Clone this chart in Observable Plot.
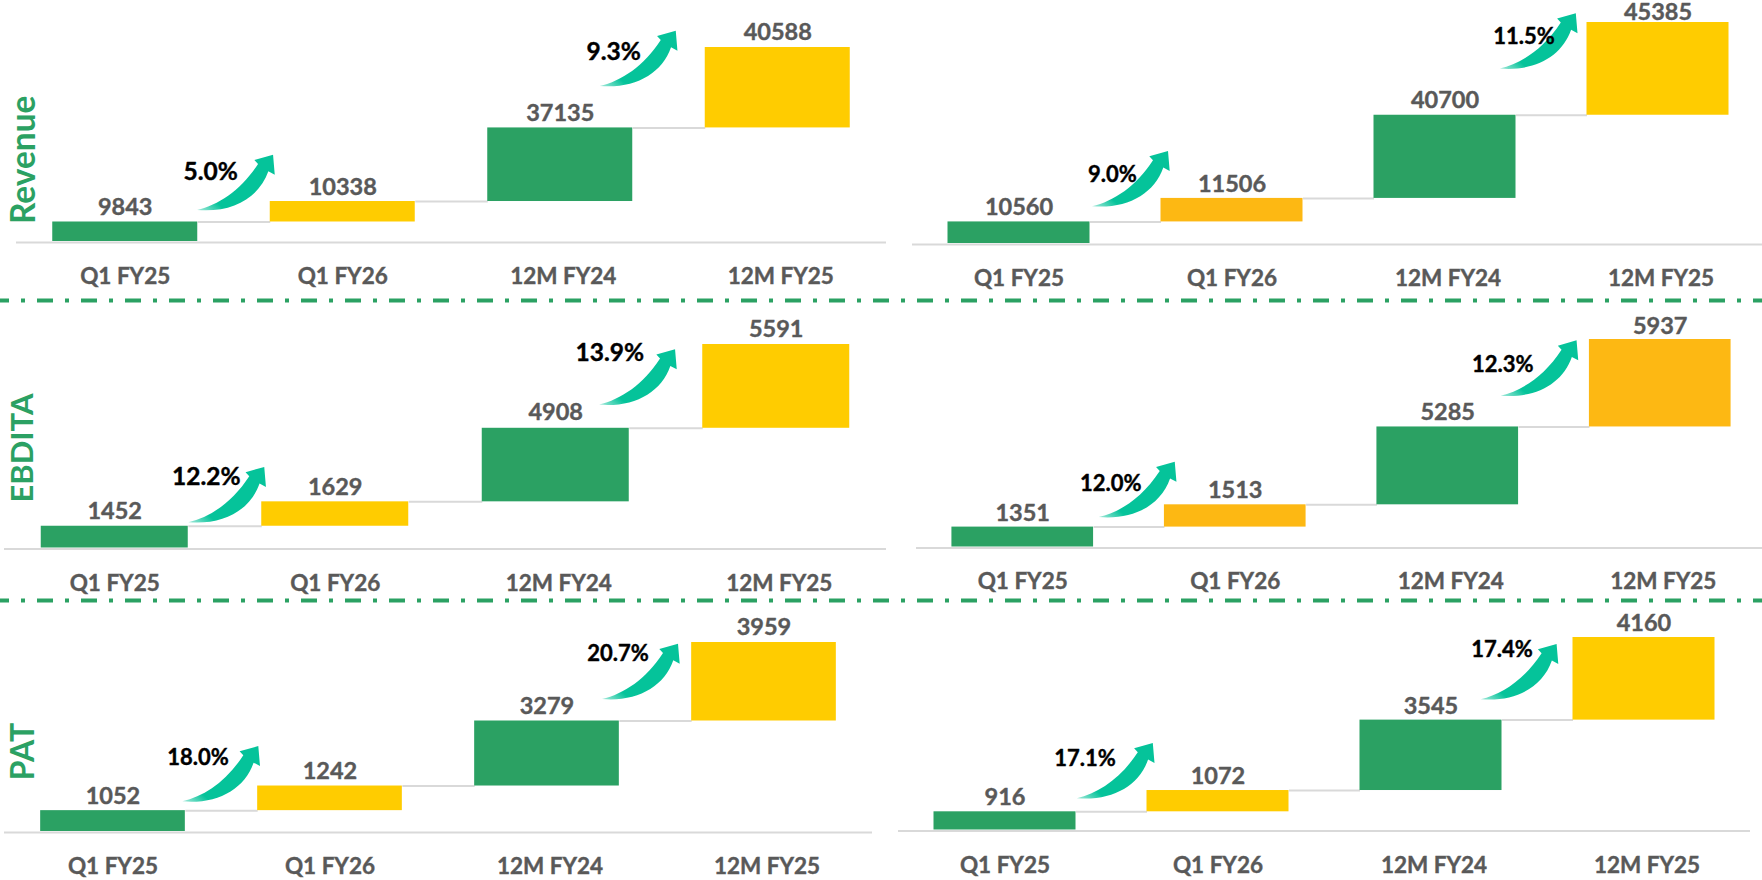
<!DOCTYPE html>
<html>
<head>
<meta charset="utf-8">
<script src="https://cdn.jsdelivr.net/npm/d3@7"></script>
<script src="https://cdn.jsdelivr.net/npm/@observablehq/plot@0.6"></script>
<style>
html,body{margin:0;padding:0;background:#fff;overflow:hidden}
#page{position:relative;width:1762px;height:880px;overflow:hidden}
#page svg g[aria-label="x-axis tick label"],
#page svg g[aria-label="x-axis tick label"] text{stroke:#595959 !important;stroke-width:0.4px !important}
</style>
</head>
<body>
<svg width="0" height="0" style="position:absolute">
  <defs>
    <linearGradient id="swoosh" x1="0" y1="1" x2="0.5" y2="0.6">
      <stop offset="0" stop-color="#05C39A" stop-opacity="0.35"/>
      <stop offset="0.45" stop-color="#05C39A"/>
      <stop offset="1" stop-color="#05C39A"/>
    </linearGradient>
  </defs>
</svg>
<div id="page"></div>
<script>
// Data
const categories = ["Q1 FY25", "Q1 FY26", "12M FY24", "12M FY25"];
const revenueLeft = [9843, 10338, 37135, 40588];
const revenueRight = [10560, 11506, 40700, 45385];
const ebditaLeft = [1452, 1629, 4908, 5591];
const ebditaRight = [1351, 1513, 5285, 5937];
const patLeft = [1052, 1242, 3279, 3959];
const patRight = [916, 1072, 3545, 4160];
const revenueLeftGrowth = ["5.0%", "9.3%"];
const revenueRightGrowth = ["9.0%", "11.5%"];
const ebditaLeftGrowth = ["12.2%", "13.9%"];
const ebditaRightGrowth = ["12.0%", "12.3%"];
const patLeftGrowth = ["18.0%", "20.7%"];
const patRightGrowth = ["17.1%", "17.4%"];

// Colours
const GREEN = "#2BA163", YELLOW = "#FFCC00", AMBER = "#FDB813", GREY = "#595959", LINE = "#D9D9D9";

// Layout of the six panels
const panels = [
  {values: revenueLeft, growth: revenueLeftGrowth, title: "Revenue", colors: [GREEN, YELLOW, GREEN, YELLOW],
   row: [0, 300], xr: [16, 886], yr: [241, 47], tick: 35, pctSize: 24.5,
   gaps: [14.5, 14.5, 14.5, 15], arrows: [[71.8, -12], [39.5, -42]], pcts: [[85.5, -49.5], [53.5, -76]],
   titlePos: [8, 15.3], titleSize: 33.5},
  {values: revenueRight, growth: revenueRightGrowth, colors: [GREEN, AMBER, GREEN, YELLOW],
   row: [0, 300], xr: [911.5, 1763.5], yr: [243, 22], tick: 35, pctSize: 22,
   gaps: [14, 14, 15, 10], arrows: [[73, -15.7], [54.8, -46.7]], pcts: [[93.5, -47], [79, -78]]},
  {values: ebditaLeft, growth: ebditaLeftGrowth, title: "EBDITA", colors: [GREEN, YELLOW, GREEN, YELLOW],
   row: [300, 300], xr: [4, 886], yr: [547.5, 344], tick: 35.5, pctSize: 24.5,
   gaps: [14.5, 14.5, 15.5, 15], arrows: [[73.5, -4], [43.3, -23.7]], pcts: [[91.5, -49], [54, -75.5]],
   titlePos: [19, 1.75], titleSize: 31},
  {values: ebditaRight, growth: ebditaRightGrowth, colors: [GREEN, AMBER, GREEN, AMBER],
   row: [300, 300], xr: [915.5, 1765.5], yr: [546.5, 339], tick: 34.5, pctSize: 22,
   gaps: [14, 14, 14.5, 13.5], arrows: [[76, -10], [52.8, -31.3]], pcts: [[88, -43], [55, -62.5]]},
  {values: patLeft, growth: patLeftGrowth, title: "PAT", colors: [GREEN, YELLOW, GREEN, YELLOW],
   row: [600, 280], xr: [4, 872], yr: [831, 642], tick: 35, pctSize: 22,
   gaps: [14.5, 14.5, 14.5, 15], arrows: [[69.3, -9.3], [55, -22]], pcts: [[85, -52.5], [71, -67.5]],
   titlePos: [19, 14.5], titleSize: 32},
  {values: patRight, growth: patRightGrowth, colors: [GREEN, YELLOW, GREEN, YELLOW],
   row: [600, 280], xr: [897.5, 1749.5], yr: [829.5, 637], tick: 35.5, pctSize: 22,
   gaps: [14, 14, 14, 14], arrows: [[71.8, -13.6], [49.6, -20.9]], pcts: [[80, -53], [71, -70]]}
];

// The swoosh arrow, drawn from its tail at the anchor point.
const swoosh = {
  draw(c) {
    c.moveTo(0, 0);
    c.bezierCurveTo(22, -5, 44, -20, 61, -46);
    c.lineTo(57.3, -50);
    c.lineTo(76, -55.3);
    c.lineTo(77.7, -35.3);
    c.lineTo(71.3, -38.7);
    c.bezierCurveTo(62, -12, 35, 3, 0, 0);
    c.closePath();
  }
};

const font = "Lato, Carlito, 'Open Sans', sans-serif";
const page = document.getElementById("page");

// Connectors run between the facing edges of two neighbouring bars.
function betweenBars(index, scales, values, dimensions, context, next) {
  const bw = scales.x.bandwidth;
  const half = (typeof bw === "function" ? bw() : bw) / 2;
  const x1 = Array.from(values.x1, v => v + half);
  const x2 = Array.from(values.x2, v => v - half);
  return next(index, scales, {...values, x1, x2}, dimensions, context);
}

function drawPanel(p) {
  const tops = Array.from(d3.cumsum(p.values));
  const rows = categories.map((cat, i) => ({
    cat, value: p.values[i], base: i ? tops[i - 1] : 0, top: tops[i], color: p.colors[i]
  }));
  const links = rows.slice(0, -1).map((r, i) => ({from: r.cat, to: rows[i + 1].cat, y: r.top}));
  const [rowTop, rowH] = p.row;
  const heavy = color => ({fill: color, stroke: color, strokeWidth: 0.4});
  const tickStyle = {anchor: "bottom", tickSize: 0, tickPadding: p.tick, lineAnchor: "middle", label: null,
    fontSize: 22.5, fontWeight: 700, fontVariant: "normal", fill: GREY};
  const marks = [
    Plot.link(links, {x1: "from", x2: "to", y1: "y", y2: "y", stroke: LINE, strokeWidth: 2, render: betweenBars}),
    Plot.ruleY([0], {stroke: LINE, strokeWidth: 2, dy: 1}),
    Plot.barY(rows, {x: "cat", y1: "base", y2: "top", fill: "color"}),
    Plot.axisX(categories.slice(0, 2), tickStyle),
    Plot.axisX(categories.slice(2), {...tickStyle, dx: 3}),
    ...rows.map((r, i) => Plot.text([r], {x: "cat", y: "top", text: d => String(d.value), dy: -p.gaps[i],
      lineAnchor: "middle", fontSize: 23.5, fontWeight: 700, ...heavy(GREY)})),
    ...p.arrows.map(([dx, dy], i) => Plot.dot([rows[i * 2]], {x: "cat", y: "top", dx, dy, symbol: swoosh, r: 1,
      fill: "url(#swoosh)", stroke: "none"})),
    ...p.pcts.map(([dx, dy], i) => Plot.text([rows[i * 2]], {x: "cat", y: "top", dx, dy, text: () => p.growth[i],
      lineAnchor: "middle", fontSize: p.pctSize, fontWeight: 700, ...heavy("#000")}))
  ];
  if (p.title) {
    marks.push(Plot.text([p.title], {frameAnchor: "left", dx: p.titlePos[0], dy: p.titlePos[1], rotate: -90, text: d => d,
      textAnchor: "middle", lineAnchor: "middle", fontSize: p.titleSize, fontWeight: 700, fill: GREEN}));
  }
  const chart = Plot.plot({
    width: p.xr[1] - p.xr[0],
    height: rowH,
    marginLeft: 0, marginRight: 0,
    marginTop: p.yr[1] - rowTop,
    marginBottom: rowTop + rowH - p.yr[0],
    x: {domain: categories, paddingInner: 1 / 3, paddingOuter: 1 / 6, round: false, axis: null},
    y: {domain: [0, tops[3]], axis: null},
    color: {type: "identity"},
    marks,
    style: {position: "absolute", left: p.xr[0] + "px", top: rowTop + "px", background: "transparent",
      overflow: "visible", maxWidth: "none", fontFamily: font}
  });
  page.appendChild(chart);
}
panels.forEach(drawPanel);

// Dash-dot separators between the rows
const separators = [300, 600];
for (const y of separators) {
  page.appendChild(Plot.plot({
    width: 1762, height: 8, margin: 0,
    y: {domain: [0, 1], axis: null},
    marks: [Plot.ruleY([0.5], {stroke: GREEN, strokeWidth: 4, strokeDasharray: "16 12 4 12", strokeDashoffset: 7})],
    style: {position: "absolute", left: 0, top: (y - 4) + "px", background: "transparent", maxWidth: "none"}
  }));
}
</script>
</body>
</html>
